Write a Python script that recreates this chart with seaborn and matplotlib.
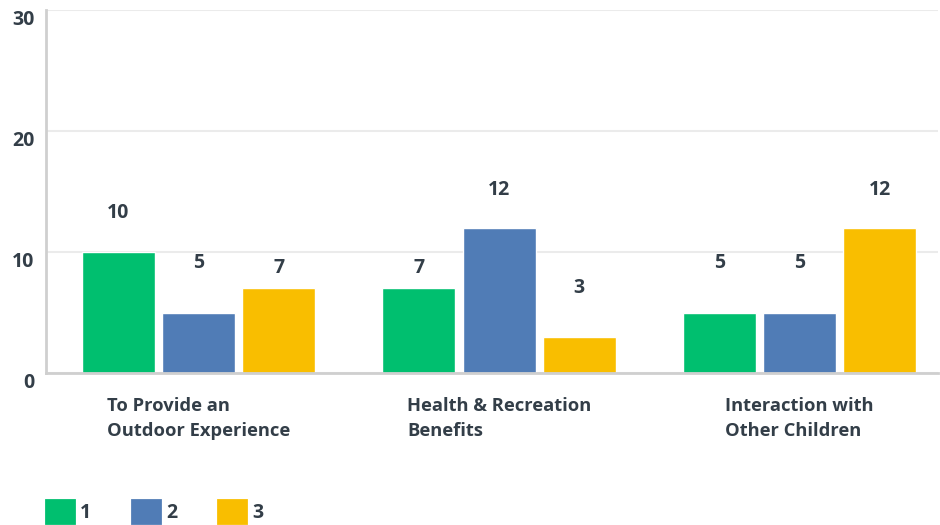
import numpy as np
import pandas as pd
import seaborn as sns
from matplotlib import pyplot as plt
from matplotlib.patches import Patch

# Chart data
categories = ["To Provide an\nOutdoor Experience",
              "Health & Recreation\nBenefits",
              "Interaction with\nOther Children"]
ratings = ["1", "2", "3"]
values = {"1": [10, 7, 5],
          "2": [5, 12, 5],
          "3": [7, 3, 12]}
colors = ["#00BF6F", "#507CB6", "#F9BE00"]
# how far above each bar its number sits (pixels), per rating
label_pad = {"1": [39, 20, 49],
             "2": [49, 38, 49],
             "3": [20, 49, 38]}

text_color = "#333E48"

rows = []
for r in ratings:
    for c, v in zip(categories, values[r]):
        rows.append({"category": c, "rating": r, "value": v})
df = pd.DataFrame(rows)

sns.set_style("white")
plt.rcParams['font.family'] = ['Open Sans', 'DejaVu Sans']

fig = plt.figure(figsize=(9.4, 5.25), dpi=100)
W, H = 940, 525
ax = fig.add_axes([46 / W, 152 / H, (938 - 46) / W, 363 / H])

sns.barplot(data=df, x="category", y="value", hue="rating",
            order=categories, hue_order=ratings, palette=colors,
            width=0.8, gap=0.09, saturation=1, legend=False, ax=ax)

ax.set_ylim(0, 30)
ax.set_xlim(-0.507, 2.46)
ax.set_yticks([0, 10, 20, 30])
ax.set_xlabel("")
ax.set_ylabel("")
ax.grid(axis="y", color="#EBEBEB", linewidth=1.5)
ax.set_axisbelow(True)

for side in ["top", "right"]:
    ax.spines[side].set_visible(False)
for side in ["left", "bottom"]:
    ax.spines[side].set_color("#CFCFCF")
    ax.spines[side].set_linewidth(2)

ax.tick_params(axis="y", length=0, pad=8.5, labelsize=14,
               labelcolor=text_color)
ax.tick_params(axis="x", length=0, pad=17.5, labelsize=13.2,
               labelcolor=text_color)
for lab in ax.get_yticklabels():
    lab.set_va("top")
    lab.set_fontweight("bold")
for lab in ax.get_xticklabels():
    lab.set_multialignment("left")
    lab.set_linespacing(1.48)
    lab.set_fontweight("bold")

# value labels over bars
for r, cont in zip(ratings, ax.containers):
    for bar, v, pad in zip(cont, values[r], label_pad[r]):
        ax.annotate(str(v), (bar.get_x() + bar.get_width() / 2, v),
                    xytext=(0, pad), textcoords="offset pixels",
                    ha="center", va="center", fontsize=14,
                    fontweight="bold", color=text_color)

handles = [Patch(facecolor=c, edgecolor=c, linewidth=2, joinstyle="round",
                 label=r) for c, r in zip(colors, ratings)]
leg = fig.legend(handles=handles, loc="lower left", ncol=3,
                 bbox_to_anchor=(46 / W, 2 / H), frameon=False,
                 borderpad=0, borderaxespad=0,
                 fontsize=14, handlelength=1.45, handleheight=1.45,
                 handletextpad=0.3, columnspacing=2.1)
for t in leg.get_texts():
    t.set_color(text_color)
    t.set_fontweight("bold")

fig.savefig("out.png", dpi=100)
